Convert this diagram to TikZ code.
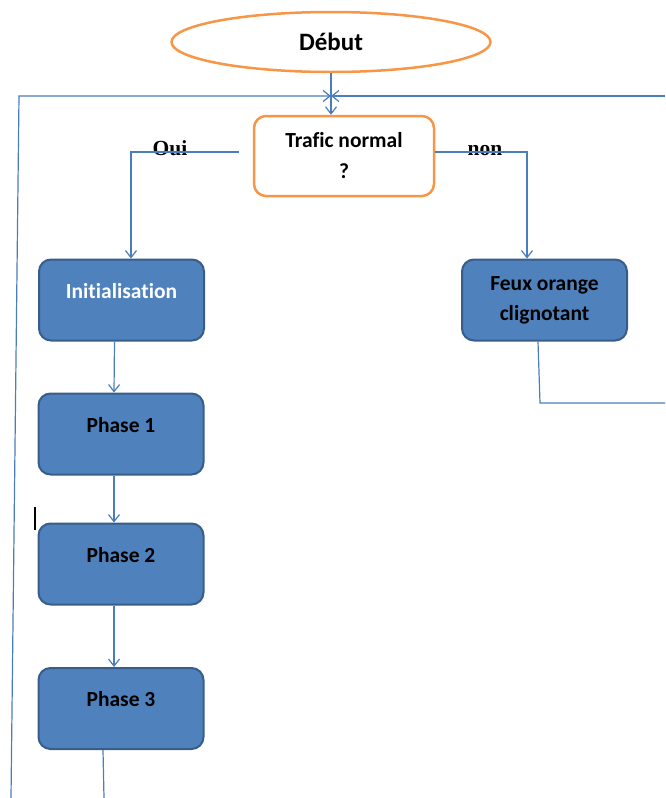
\documentclass[tikz,border=0pt]{standalone}
\usepackage{fontspec}
\setmainfont{Carlito}[Ligatures=NoCommon]
\newfontfamily\branchfont{Liberation Serif}
\usepackage{tikz}
\usetikzlibrary{shapes.geometric}
\usetikzlibrary{arrows.meta}
\definecolor{orangeline}{HTML}{F79646}
\definecolor{bluefill}{HTML}{4F81BD}
\definecolor{blueline}{HTML}{385D8A}
\definecolor{arrowblue}{HTML}{4A7EBB}
\newcommand{\uptext}[1]{\raisebox{9pt}[\height][\depth]{#1}}
\tikzset{
  startstop/.style={ellipse, draw=orangeline, line width=2.5pt, fill=white,
    minimum width=319pt, minimum height=60pt, font=\fontsize{25}{30}\selectfont\bfseries},
  decision/.style={rectangle, rounded corners=12pt, draw=orangeline, line width=2.5pt,
    minimum width=180pt, minimum height=80pt, align=center, font=\fontsize{21.5}{31}\selectfont\bfseries},
  process/.style={rectangle, rounded corners=12pt, draw=blueline, fill=bluefill, line width=2pt,
    minimum width=165pt, minimum height=81pt, align=center, font=\fontsize{21.5}{30}\selectfont\bfseries},
  flow/.style={draw=arrowblue, line width=1.2pt, -{Straight Barb[length=7pt,width=11pt]}},
  link/.style={draw=arrowblue, line width=1.2pt},
  branch/.style={font=\branchfont\fontsize{21.5}{24}\selectfont\bfseries, inner sep=0pt}
}
\begin{document}
\begin{tikzpicture}[x=1pt, y=-1pt]
            \useasboundingbox (0,0) rectangle (665,798);
            % boxes
            \node[startstop] (debut) at (331,42) {Début};
            \node[decision] (trafic) at (344,156) {Trafic normal\\?};
            \node[process, text=white] (init) at (121.5,300) {\uptext{Initialisation}};
            \node[process] (feux) at (544.5,300) {Feux orange\\clignotant};
            \node[process] (phase1) at (121,434) {\uptext{Phase 1}};
            \node[process] (phase2) at (121,564) {\uptext{Phase 2}};
            \node[process] (phase3) at (121,708.5) {\uptext{Phase 3}};
            \node[branch] (oui) at (170,148) {Oui};
            \node[branch] (non) at (485,151) {non};
            % loop back to the test
            \coordinate (topmid) at (331,96);
            \coordinate (loopcorner) at (19,96);
            \coordinate (loopbottom) at (11,798);
            \coordinate (rightend) at (665,96);
            \coordinate (phase3end) at (104,798);
            \coordinate (feuxbend) at (540,403);
            \coordinate (feuxend) at (665,403);
            \draw[flow] (debut.south) -- (debut.south |- trafic.north);
            \draw[flow] (loopbottom) -- (loopcorner) -- (topmid);
            \draw[flow] (rightend) -- (topmid);
            \draw[flow] ([xshift=-14pt,yshift=4pt]trafic.west) -| ([xshift=9.5pt]init.north);
            \draw[flow] ([yshift=4pt]trafic.east) -| ([xshift=-17.5pt]feux.north);
            \draw[flow] ([xshift=-7pt]init.south) -- ([xshift=-7pt]phase1.north);
            \draw[flow] ([xshift=-7pt]phase1.south) -- ([xshift=-7pt]phase2.north);
            \draw[flow] ([xshift=-7pt]phase2.south) -- ([xshift=-7pt]phase3.north);
            \draw[link] ([xshift=-18pt]phase3.south) -- (phase3end);
            \draw[link] ([xshift=-6.5pt]feux.south) -- (feuxbend) -- (feuxend);
            \draw[line width=2.5pt] (35,507) -- (35,530);
\end{tikzpicture}
\end{document}
